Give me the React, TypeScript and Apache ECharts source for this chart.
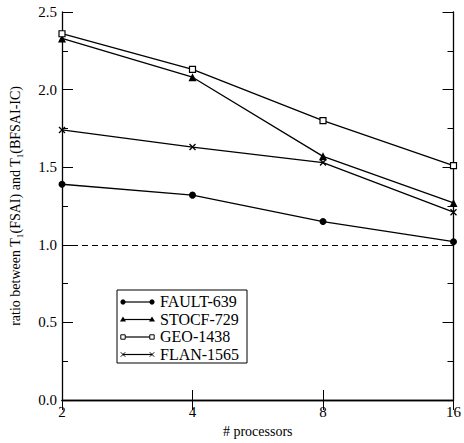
import React, { useEffect, useRef } from "react";
import * as echarts from "echarts";

const categories = ["2", "4", "8", "16"];
const seriesNames = ["FAULT-639", "STOCF-729", "GEO-1438", "FLAN-1565"];
const fault639 = [1.39, 1.32, 1.15, 1.02];
const stocf729 = [2.33, 2.08, 1.57, 1.27];
const geo1438 = [2.36, 2.13, 1.80, 1.51];
const flan1565 = [1.74, 1.63, 1.53, 1.21];
const baseline = 1.0;

const FONT = "Liberation Serif";
const CROSS = "path://M0,0L10,10M10,0L0,10";

export default function App() {
  const ref = useRef<HTMLDivElement>(null);
  useEffect(() => {
    if (!ref.current) return;
    const chart = echarts.init(ref.current, null, { renderer: "svg" });
    const lineStyle = { color: "#000", width: 1.3 };
    const symbols: any[] = [
      { symbol: "circle", symbolSize: 7, itemStyle: { color: "#000" } },
      { symbol: "triangle", symbolSize: 8, itemStyle: { color: "#000" } },
      { symbol: "rect", symbolSize: 6, itemStyle: { color: "#fff", borderColor: "#000", borderWidth: 1.2 } },
      { symbol: CROSS, symbolSize: 6, itemStyle: { color: "none", borderColor: "#000", borderWidth: 1.3 } },
    ];
    const datas = [fault639, stocf729, geo1438, flan1565];
    const series: any[] = datas.map((d, i) => ({
      name: seriesNames[i],
      type: "line",
      data: d,
      ...symbols[i],
      showAllSymbol: true,
      lineStyle,
      silent: true,
      z: 3,
      ...(i === 0
        ? {
            markLine: {
              silent: true,
              symbol: "none",
              label: { show: false },
              lineStyle: { color: "#000", type: [6, 4], width: 1 },
              data: [{ yAxis: baseline }],
            },
          }
        : {}),
    }));

    // legend box + icons drawn with graphics; legend texts from the legend component
    const lx0 = 123, lx1 = 152, ly0 = 302, ldy = 17.5;
    const legendChildren: any[] = [
      { type: "rect", shape: { x: 117, y: 290, width: 130, height: 73 }, style: { fill: "#fff", stroke: "#000", lineWidth: 1 } },
    ];
    seriesNames.forEach((n, i) => {
      const y = ly0 + i * ldy;
      legendChildren.push({ type: "line", shape: { x1: lx0, y1: y, x2: lx1, y2: y }, style: { stroke: "#000", lineWidth: 1.2 } });
      [lx0, lx1].forEach((x) => {
        if (i === 0) legendChildren.push({ type: "circle", shape: { cx: x, cy: y, r: 2.6 }, style: { fill: "#000" } });
        if (i === 1) legendChildren.push({ type: "polygon", shape: { points: [[x, y - 3], [x + 3, y + 2], [x - 3, y + 2]] }, style: { fill: "#000" } });
        if (i === 2) legendChildren.push({ type: "rect", shape: { x: x - 2.2, y: y - 2.2, width: 4.4, height: 4.4 }, style: { fill: "#fff", stroke: "#000", lineWidth: 1 } });
        if (i === 3) {
          legendChildren.push({ type: "line", shape: { x1: x - 2.2, y1: y - 2.2, x2: x + 2.2, y2: y + 2.2 }, style: { stroke: "#000", lineWidth: 1 } });
          legendChildren.push({ type: "line", shape: { x1: x - 2.2, y1: y + 2.2, x2: x + 2.2, y2: y - 2.2 }, style: { stroke: "#000", lineWidth: 1 } });
        }
      });
    });

    const axisCommon = {
      axisLine: { show: true, lineStyle: { color: "#000", width: 1.3 } },
      splitLine: { show: false },
    };

    chart.setOption({
      animation: false,
      backgroundColor: "#fff",
      textStyle: { fontFamily: FONT },
      grid: { left: 62, right: 8, top: 12, bottom: 40, show: false },
      legend: {
        show: true,
        orient: "vertical",
        left: 155,
        top: 293.5,
        padding: 0,
        itemGap: 1.5,
        itemWidth: 0,
        itemHeight: 16,
        icon: "none",
        selectedMode: false,
        data: seriesNames,
        textStyle: { color: "#000", fontFamily: FONT, fontSize: 16, lineHeight: 16, padding: 0 },
        z: 20,
      },
      xAxis: [
        {
          type: "category",
          data: categories,
          boundaryGap: false,
          position: "bottom",
          ...axisCommon,
          axisTick: { show: true, inside: true, length: 10, alignWithLabel: true, lineStyle: { color: "#000" } },
          axisLabel: { color: "#000", fontFamily: FONT, fontSize: 15, margin: 4 },
          name: "# processors",
          nameLocation: "middle",
          nameGap: 24,
          nameTextStyle: { color: "#000", fontFamily: FONT, fontSize: 14 },
        },
        {
          type: "category",
          data: categories,
          boundaryGap: false,
          position: "top",
          ...axisCommon,
          axisTick: { show: true, inside: true, length: 10, lineStyle: { color: "#000" } },
          axisLabel: { show: false },
        },
      ],
      yAxis: [
        {
          type: "value",
          min: 0,
          max: 2.5,
          interval: 0.5,
          position: "left",
          ...axisCommon,
          axisTick: { show: true, inside: true, length: 11, lineStyle: { color: "#000" } },
          minorTick: { show: true, splitNumber: 2, length: 6, lineStyle: { color: "#000" } },
          axisLabel: { color: "#000", fontFamily: FONT, fontSize: 15, margin: 5, formatter: (v: number) => v.toFixed(1) },
          name: "ratio between T{sub|1}(FSAI) and T{sub|1}(BFSAI-IC)",
          nameLocation: "middle",
          nameGap: 38,
          nameRotate: 90,
          nameTextStyle: {
            color: "#000",
            fontFamily: FONT,
            fontSize: 14,
            rich: { sub: { fontFamily: FONT, fontSize: 9, color: "#000", verticalAlign: "bottom", padding: [8, 0, 0, 0] } },
          },
        },
        {
          type: "value",
          min: 0,
          max: 2.5,
          interval: 0.5,
          position: "right",
          ...axisCommon,
          axisTick: { show: true, inside: true, length: 11, lineStyle: { color: "#000" } },
          minorTick: { show: true, splitNumber: 2, length: 6, lineStyle: { color: "#000" } },
          axisLabel: { show: false },
        },
      ],
      series,
      graphic: [{ type: "group", children: legendChildren, z: 10 }],
    });
    return () => chart.dispose();
  }, []);
  return <div ref={ref} style={{ width: 464, height: 443, position: "absolute", left: 0, top: 0 }} />;
}
